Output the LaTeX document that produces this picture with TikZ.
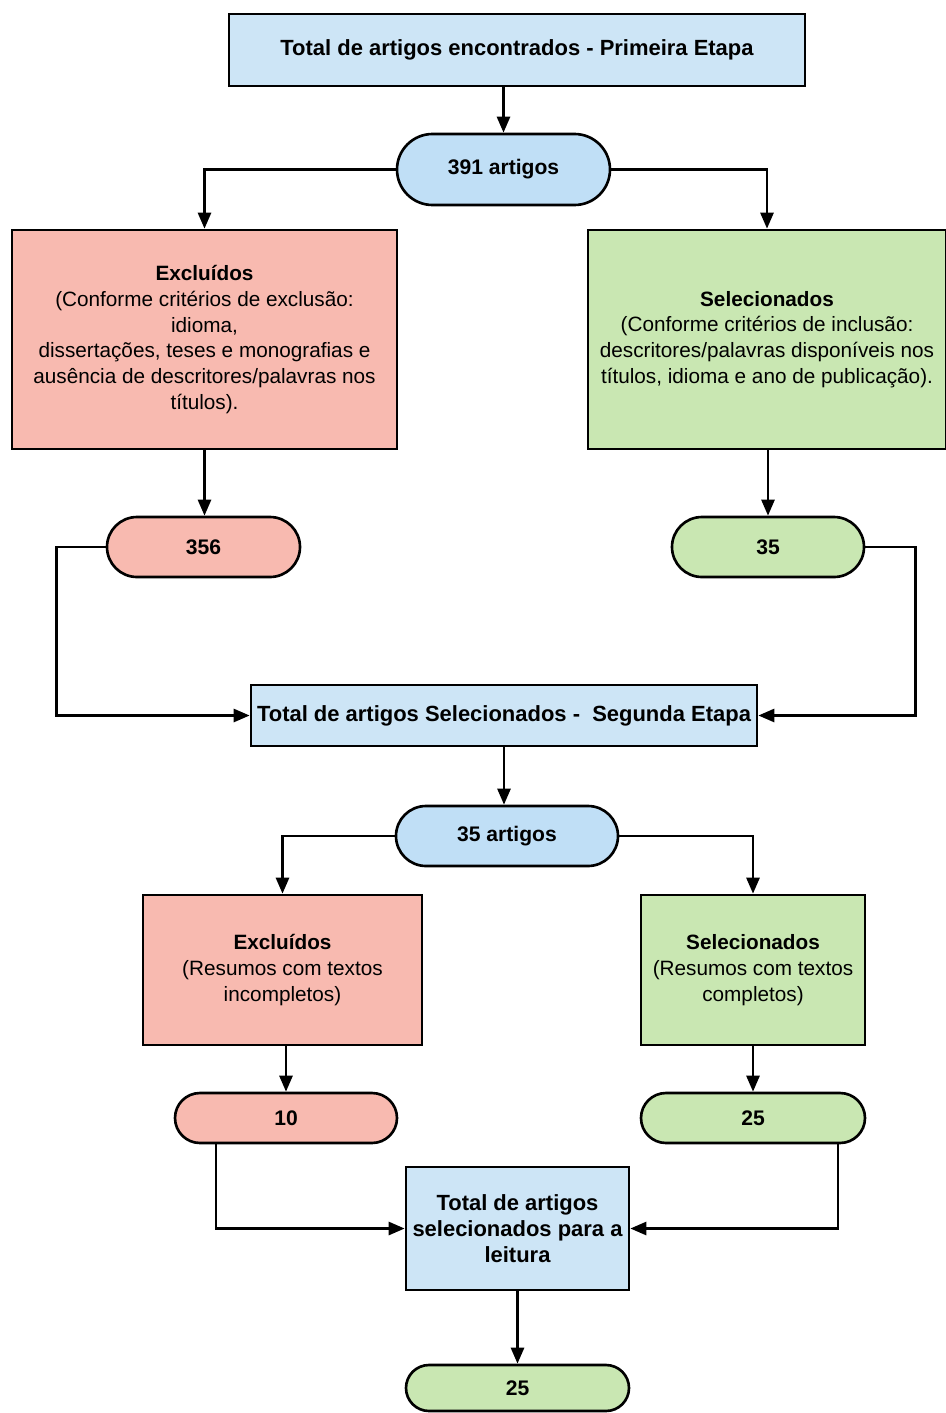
\documentclass[tikz,border=0pt]{standalone}
\usepackage{fontspec}
\setmainfont{Liberation Sans}
\usetikzlibrary{shapes.misc,arrows.meta}

\definecolor{azul}{RGB}{205,229,246}
\definecolor{azulpill}{RGB}{192,223,246}
\definecolor{verm}{RGB}{248,186,176}
\definecolor{verde}{RGB}{201,231,178}

\begin{document}
\begin{tikzpicture}[
    line width=1.5pt,
    txt/.style={align=center, inner sep=0pt, font=\fontsize{11.8}{14.6}\selectfont},
    etapa/.style={txt, rectangle, draw, fill=azul, font=\fontsize{12.5}{14.6}\selectfont\bfseries},
    excl/.style={txt, rectangle, draw, fill=verm},
    sel/.style={txt, rectangle, draw, fill=verde},
    pill/.style={txt, rounded rectangle, draw, font=\fontsize{12}{14.6}\selectfont\bfseries},
    seta/.style={-{Triangle[length=0.32cm,width=0.26cm]}}
  ]
    \useasboundingbox (0,0) rectangle (18.9,-28.26);

    % primeira etapa
    \node[etapa, minimum width=11.52cm, minimum height=1.44cm] (top) at (10.34,-1.0)
      {Total de artigos encontrados - Primeira Etapa};
    \node[pill, fill=azulpill, minimum width=4.26cm, minimum height=1.42cm] (n391) at (10.07,-3.39) {391 artigos};
    \node[excl, minimum width=7.7cm, minimum height=4.38cm] (exc1) at (4.09,-6.79)
      {\textbf{Excluídos}\\(Conforme critérios de exclusão:\\idioma,\\ dissertações, teses e monografias e\\ausência de descritores/palavras nos\\títulos).};
    \node[sel, minimum width=7.16cm, minimum height=4.38cm] (sel1) at (15.34,-6.79)
      {\textbf{Selecionados}\\(Conforme critérios de inclusão:\\descritores/palavras disponíveis nos\\títulos, idioma e ano de publicação).};
    \node[pill, fill=verm, minimum width=3.86cm, minimum height=1.2cm] (n356) at (4.07,-10.94) {356};
    \node[pill, fill=verde, minimum width=3.84cm, minimum height=1.2cm] (n35) at (15.36,-10.94) {35};

    % segunda etapa
    \node[etapa, minimum width=10.12cm, minimum height=1.22cm] (box2) at (10.08,-14.31)
      {Total de artigos Selecionados -\ \ Segunda Etapa};
    \node[pill, fill=azulpill, minimum width=4.44cm, minimum height=1.2cm] (n35a) at (10.14,-16.72) {35 artigos};
    \node[excl, minimum width=5.58cm, minimum height=3.0cm] (exc2) at (5.65,-19.4)
      {\textbf{Excluídos}\\(Resumos com textos\\incompletos)};
    \node[sel, minimum width=4.48cm, minimum height=3.0cm] (sel2) at (15.06,-19.4)
      {\textbf{Selecionados}\\(Resumos com textos\\completos)};
    \node[pill, fill=verm, minimum width=4.44cm, minimum height=1.0cm] (n10) at (5.72,-22.36) {10};
    \node[pill, fill=verde, minimum width=4.48cm, minimum height=1.0cm] (n25) at (15.06,-22.36) {25};

    % leitura
    \node[etapa, minimum width=4.46cm, minimum height=2.46cm] (box3) at (10.35,-24.57)
      {Total de artigos\\selecionados para a\\leitura};
    \node[pill, fill=verde, minimum width=4.46cm, minimum height=0.92cm] (fim) at (10.35,-27.76) {25};

    \draw[seta] (top.south -| n391.north) -- (n391.north);
    \draw[seta] (n391.west) -| (exc1.north);
    \draw[seta] (n391.east) -| (sel1.north);
    \draw[seta] (exc1.south) -- (exc1.south |- n356.north);
    \draw[seta] (sel1.south -| n35.north) -- (n35.north);
    \draw[seta] (n356.west) -- ++(-0.98,0) |- (box2.west);
    \draw[seta] (n35.east) -- ++(1.0,0) |- (box2.east);

    \draw[seta] (box2.south) -- (box2.south |- n35a.north);
    \draw[seta] (n35a.west) -| (exc2.north);
    \draw[seta] (n35a.east) -| (sel2.north);
    \draw[seta] (exc2.south -| n10.north) -- (n10.north);
    \draw[seta] (sel2.south) -- (n25.north);
    \draw[seta] ([xshift=-1.4cm]n10.south) |- (box3.west);
    \draw[seta] ([xshift=1.7cm]n25.south) |- (box3.east);
    \draw[seta] (box3.south) -- (fim.north);
  \end{tikzpicture}
\end{document}
